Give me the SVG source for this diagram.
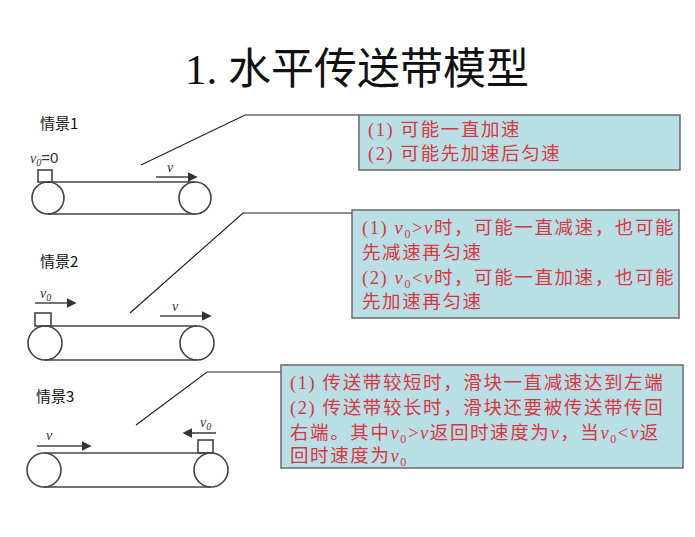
<svg xmlns="http://www.w3.org/2000/svg" width="695" height="537" viewBox="0 0 695 537">
<style>
.box{fill:#b9dfe6;stroke:#6a6a6a;stroke-width:1.5}
.ln{stroke:#222;stroke-width:1.2;fill:none}
.belt{stroke:#444;stroke-width:1.6;fill:none}
.t{font-family:"Liberation Serif","Noto Sans CJK SC",serif;font-size:18.5px;fill:#d9363e;letter-spacing:1.6px}
.lab{font-family:"Noto Sans CJK SC",sans-serif;font-size:15px;fill:#111}
.v{font-family:"Liberation Serif",serif;font-style:italic;font-size:14px;fill:#333}
.arr{stroke:#444;stroke-width:1.6;fill:none;marker-end:url(#ah)}
</style>
<defs><marker id="ah" markerWidth="6" markerHeight="6" refX="5" refY="3" orient="auto"><path d="M0,0 L6,3 L0,6z" fill="#333"/></marker></defs>
<rect width="695" height="537" fill="#fff"/>
<text x="357" y="84" text-anchor="middle" font-family="Liberation Serif,'Noto Sans CJK SC',serif" font-size="43" fill="#111">1. 水平传送带模型</text>
<g id="connectors">
<polyline class="ln" points="141,165 245,115 359,115"/>
<polyline class="ln" points="130,313 243,213 352,213"/>
<polyline class="ln" points="136,425 207,372 281,372"/>
</g>
<g id="box1"><rect class="box" x="359" y="115" width="321" height="55"/>
<text class="t" x="368" y="136">(1) 可能一直加速</text><text class="t" x="368" y="160">(2) 可能先加速后匀速</text></g>
<g id="box2"><rect class="box" x="352" y="210" width="327" height="108"/>
<text class="t" x="362" y="234">(1) <tspan font-style="italic">v</tspan><tspan font-size="12" dy="4">0</tspan><tspan dy="-4">&gt;</tspan><tspan font-style="italic">v</tspan>时，可能一直减速，也可能</text>
<text class="t" x="362" y="259">先减速再匀速</text>
<text class="t" x="362" y="284">(2) <tspan font-style="italic">v</tspan><tspan font-size="12" dy="4">0</tspan><tspan dy="-4">&lt;</tspan><tspan font-style="italic">v</tspan>时，可能一直加速，也可能</text>
<text class="t" x="362" y="308">先加速再匀速</text></g>
<g id="box3"><rect class="box" x="281" y="365" width="402" height="103"/>
<text class="t" x="290" y="389">(1) 传送带较短时，滑块一直减速达到左端</text>
<text class="t" x="290" y="414">(2) 传送带较长时，滑块还要被传送带传回</text>
<text class="t" x="290" y="439">右端。其中<tspan font-style="italic">v</tspan><tspan font-size="12" dy="4">0</tspan><tspan dy="-4">&gt;</tspan><tspan font-style="italic">v</tspan>返回时速度为<tspan font-style="italic">v</tspan>，当<tspan font-style="italic">v</tspan><tspan font-size="12" dy="4">0</tspan><tspan dy="-4">&lt;</tspan><tspan font-style="italic">v</tspan>返</text>
<text class="t" x="290" y="462">回时速度为<tspan font-style="italic">v</tspan><tspan font-size="12" dy="4">0</tspan></text></g>
<g id="scene1">
<text class="lab" x="40" y="129">情景1</text>
<circle class="belt" cx="48" cy="198" r="16"/><circle class="belt" cx="195" cy="198" r="16"/>
<line class="belt" x1="48" y1="182" x2="195" y2="182"/><line class="belt" x1="48" y1="214" x2="195" y2="214"/>
<rect class="belt" x="38" y="170" width="14" height="12"/>
<text class="v" x="30" y="163">v<tspan font-size="10" dy="3">0</tspan><tspan dy="-3" font-style="normal" font-family="Liberation Sans,sans-serif" font-size="15">=0</tspan></text>
<line class="arr" x1="156" y1="177" x2="196" y2="177"/><text class="v" x="167" y="172">v</text>
</g>
<g id="scene2">
<text class="lab" x="40" y="267">情景2</text>
<circle class="belt" cx="45" cy="343" r="17"/><circle class="belt" cx="197" cy="343" r="17"/>
<line class="belt" x1="45" y1="326" x2="197" y2="326"/><line class="belt" x1="45" y1="360" x2="197" y2="360"/>
<rect class="belt" x="35" y="313" width="16" height="13"/>
<line class="arr" x1="35" y1="303" x2="75" y2="303"/><text class="v" x="40" y="298">v<tspan font-size="10" dy="3">0</tspan></text>
<line class="arr" x1="160" y1="316" x2="210" y2="316"/><text class="v" x="172" y="311">v</text>
</g>
<g id="scene3">
<text class="lab" x="36" y="402">情景3</text>
<circle class="belt" cx="44" cy="470" r="17"/><circle class="belt" cx="211" cy="470" r="17"/>
<line class="belt" x1="44" y1="453" x2="211" y2="453"/><line class="belt" x1="44" y1="487" x2="211" y2="487"/>
<rect class="belt" x="198" y="440" width="15" height="13"/>
<line class="arr" x1="216" y1="433" x2="184" y2="433"/><text class="v" x="200" y="427">v<tspan font-size="10" dy="3">0</tspan></text>
<line class="arr" x1="37" y1="446" x2="90" y2="446"/><text class="v" x="46" y="440">v</text>
</g>
</svg>
